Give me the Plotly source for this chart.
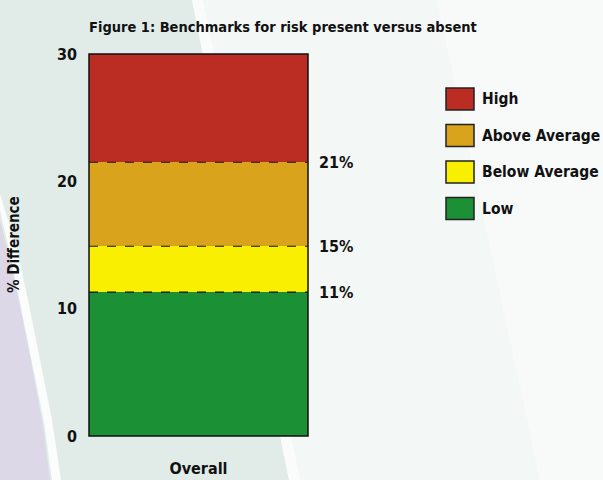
import plotly.graph_objects as go

# ---- data ----
category = ["Overall"]
levels = ["Low", "Below Average", "Above Average", "High"]
segment_values = [11.3, 3.6, 6.6, 8.5]          # stacked segments (sum = 30)
colors = ["#1b9035", "#f8f000", "#d9a31b", "#bb2d23"]
boundary_labels = ["11%", "15%", "21%"]
y_ticks = [0, 10, 20, 30]

W, H = 603, 480
L, R, T, B = 89, 308, 54, 436   # plot area in pixels

def px(x, y):
    return ((x - L) / (R - L), (B - y) / (B - T))

def path(points):
    s = ""
    for i, (x, y) in enumerate(points):
        a, b = px(x, y)
        s += ("M" if i == 0 else "L") + f"{a:.4f},{b:.4f} "
    return s + "Z"

FONT = "Liberation Sans Narrow, DejaVu Sans Condensed, Open Sans"

fig = go.Figure()
for name, val, col in zip(levels, segment_values, colors):
    fig.add_trace(go.Bar(x=category, y=[val], name=name, marker_color=col,
                         marker_line_width=0, showlegend=False))

shapes = []
# background decoration
bg = [
    ([(0, 0), (192, 0), (289, 480), (0, 480)], "#e1ece9"),
    ([(192, 0), (203, 0), (300, 480), (289, 480)], "#fafcfc"),
    ([(437, 0), (603, 0), (603, 480), (540, 480)], "#f8fafa"),
    ([(0, 210), (10, 254), (20, 302), (32, 362), (44, 422), (52, 480),
      (61, 480), (52, 420), (40, 360), (28, 300), (17, 250), (0, 194)], "#fbfdfc"),
    ([(0, 220), (10, 260), (20, 306), (32, 366), (43, 426), (50, 480), (0, 480)], "#dcd8e8"),
]
for pts, col in bg:
    shapes.append(dict(type="path", xref="paper", yref="paper", path=path(pts),
                       fillcolor=col, line_width=0, layer="below"))

# dashed boundaries between segments
cum = 0
bounds = []
for v in segment_values[:-1]:
    cum += v
    bounds.append(cum)
for bnd in bounds:
    shapes.append(dict(type="line", xref="paper", yref="y", x0=0, x1=1, y0=bnd, y1=bnd,
                       line=dict(color="#111", width=1.2, dash="dash")))
# bar outline
shapes.append(dict(type="rect", xref="paper", yref="paper", x0=0, x1=1, y0=0, y1=1,
                   line=dict(color="#111", width=1.5)))

annotations = []
for bnd, lab in zip(bounds, boundary_labels):
    annotations.append(dict(xref="paper", yref="y", x=px(317, 0)[0], y=bnd, text=lab,
                            showarrow=False, xanchor="left", yanchor="middle",
                            font=dict(family=FONT, size=16, color="#111", weight="bold")))

# legend (top-down: High first)
leg_y0 = 99
for i, (name, col) in enumerate(zip(levels[::-1], colors[::-1])):
    cy = leg_y0 + i * 36.5
    x0, y0 = px(446, cy - 11)
    x1, y1 = px(474, cy + 11)
    shapes.append(dict(type="rect", xref="paper", yref="paper", x0=x0, x1=x1, y0=y1, y1=y0,
                       fillcolor=col, line=dict(color="#222", width=1.5)))
    ax, ay = px(480, cy)
    annotations.append(dict(xref="paper", yref="paper", x=ax, y=ay, text=name, showarrow=False,
                            xanchor="left", yanchor="middle",
                            font=dict(family=FONT, size=15.5, color="#111", weight="bold")))

# y axis title
tx, ty = px(14, 245)
annotations.append(dict(xref="paper", yref="paper", x=tx, y=ty, text="% Difference",
                        textangle=-90, showarrow=False, xanchor="center", yanchor="middle",
                        font=dict(family=FONT, size=15, color="#111", weight="bold")))

fig.update_layout(
    width=W, height=H,
    margin=dict(l=L, r=W - R, t=T, b=H - B, autoexpand=False),
    barmode="stack", bargap=0,
    paper_bgcolor="#f3f7f6", plot_bgcolor="rgba(0,0,0,0)",
    shapes=shapes, annotations=annotations,
    title=dict(text="Figure 1: Benchmarks for risk present versus absent",
               xref="paper", x=0, xanchor="left", yref="container", y=1 - 27 / H, yanchor="middle",
               font=dict(family=FONT, size=14.5, color="#111", weight="bold")),
    xaxis=dict(showgrid=False, showline=False, ticks="", ticklabelstandoff=21, automargin=False,
               tickfont=dict(family=FONT, size=16, color="#111", weight="bold")),
    yaxis=dict(range=[0, 30], tickvals=y_ticks, showgrid=False, showline=False, zeroline=False,
               ticks="", ticklabelstandoff=11, automargin=False,
               tickfont=dict(family=FONT, size=16, color="#111", weight="bold")),
    showlegend=False,
)

fig.write_html("out.html", config={"displayModeBar": False},
               post_script="document.body.style.margin='0';document.body.style.overflow='hidden';")
